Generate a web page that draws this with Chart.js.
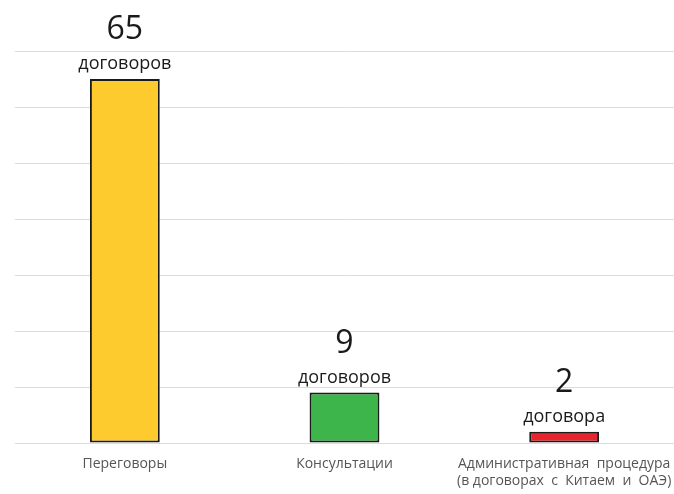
<!DOCTYPE html>
<html>
<head>
<meta charset="utf-8">
<script src="https://cdn.jsdelivr.net/npm/chart.js@4/dist/chart.umd.min.js"></script>
<style>
html,body{margin:0;padding:0;background:#fff;}
#wrap{width:674px;height:494px;}
</style>
</head>
<body>
<div id="wrap"><canvas id="c" width="674" height="494"></canvas></div>
<script>
const categories = [["Переговоры"], ["Консультации"], ["Административная  процедура", "(в договорах  с  Китаем  и  ОАЭ)"]];
const values = [65, 9, 2];
const unitLabels = ["договоров", "договоров", "договора"];
const barColors = ["#FDCB2E", "#3DB54A", "#E8232B"];
const yTicks = [0, 10, 20, 30, 40, 50, 60, 70];

const FONT = "'Open Sans', 'Noto Sans', sans-serif";

const valueLabels = {
  id: 'valueLabels',
  afterDatasetsDraw(chart) {
    const ctx = chart.ctx;
    const meta = chart.getDatasetMeta(0);
    ctx.save();
    ctx.fillStyle = '#1a1a1a';
    ctx.textAlign = 'center';
    meta.data.forEach((bar, i) => {
      const x = bar.x, y = bar.y;
      ctx.font = "32px " + FONT;
      ctx.textBaseline = 'alphabetic';
      ctx.fillText(String(values[i]), x, y - 40);
      ctx.font = "18px " + FONT;
      ctx.textBaseline = 'middle';
      ctx.fillText(unitLabels[i], x, y - 15);
    });
    ctx.restore();
  }
};

new Chart(document.getElementById('c'), {
  type: 'bar',
  data: {
    labels: categories,
    datasets: [{
      data: values,
      backgroundColor: barColors,
      borderColor: '#1a1a1a',
      borderWidth: 2,
      borderSkipped: false,
      barPercentage: 0.318,
      categoryPercentage: 1.0
    }]
  },
  options: {
    responsive: false,
    animation: false,
    devicePixelRatio: 1,
    layout: { padding: { top: 51, left: 15, right: 0, bottom: 0 } },
    plugins: { legend: { display: false }, tooltip: { enabled: false } },
    scales: {
      x: {
        grid: { display: false, drawTicks: false },
        border: { display: false },
        ticks: {
          color: '#555',
          font: { family: FONT, size: 14 },
          padding: 13,
          maxRotation: 0,
          autoSkip: false
        },
        afterFit: (s) => { s.height = 51; s.paddingLeft = 0; s.paddingRight = 0; }
      },
      y: {
        min: yTicks[0],
        max: yTicks[yTicks.length - 1],
        afterBuildTicks: (s) => { s.ticks = yTicks.map(v => ({ value: v })); },
        grid: { color: '#dcdcdc', lineWidth: 1, drawTicks: false },
        border: { display: false },
        ticks: { display: false },
        afterFit: (s) => { s.width = 0; }
      }
    }
  },
  plugins: [valueLabels]
});
</script>
</body>
</html>
